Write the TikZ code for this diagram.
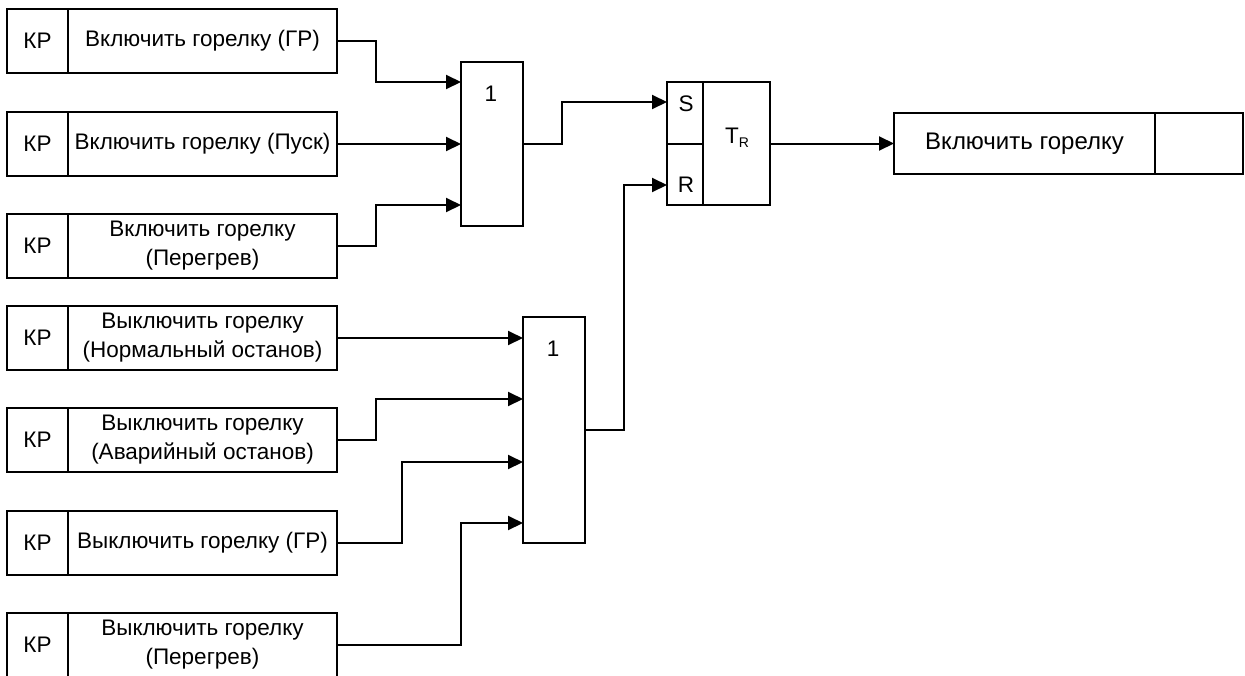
\documentclass[tikz,border=0pt]{standalone}
\usepackage{fontspec}
\setmainfont{Liberation Sans}
\usetikzlibrary{arrows.meta}
\begin{document}
\begin{tikzpicture}[x=1pt,y=-1pt,
  every node/.style={inner sep=0pt,outer sep=0pt},
  blk/.style={draw,line width=2pt,anchor=north west,font=\fontsize{22.5}{29}\selectfont,align=center},
  arr/.style={line width=2pt,-{Triangle[length=15pt,width=14pt]}},
  lbl/.style={font=\fontsize{22.5}{29}\selectfont}]
\useasboundingbox (0,0) rectangle (1245,675);
% left blocks
\foreach \n/\y/\t in {1/9/{Включить горелку (ГР)},2/112/{Включить горелку (Пуск)},3/214/{Включить горелку\\(Перегрев)},4/306/{Выключить горелку\\(Нормальный останов)},5/408/{Выключить горелку\\(Аварийный останов)},6/511/{Выключить горелку (ГР)},7/613/{Выключить горелку\\(Перегрев)}}{
  \node[blk,minimum width=61pt,minimum height=64pt] (k\n) at (7,\y) {КР};
  \node[blk,minimum width=269pt,minimum height=64pt] (t\n) at (68,\y) {\t};
}
% OR gates
\node[blk,minimum width=62pt,minimum height=164pt] (or1) at (461,62) {};
\node[lbl] (or1l) at (491,94) {1};
\node[blk,minimum width=62pt,minimum height=226pt] (or2) at (523,317) {};
\node[lbl] (or2l) at (553,349) {1};
% trigger
\node[blk,minimum width=36pt,minimum height=62pt] (ts) at (667,82) {};
\node[blk,minimum width=36pt,minimum height=61pt] (tr) at (667,144) {};
\node[blk,minimum width=67pt,minimum height=123pt] (tm) at (703,82) {};
\node[lbl] (sl) at (686,104) {S};
\node[lbl] (rl) at (686,185) {R};
\node[lbl] (tl) at (737,138) {T\raisebox{-0.35ex}{\fontsize{14}{14}\selectfont R}};
% output
\node[blk,minimum width=261pt,minimum height=61pt,font=\fontsize{24}{29}\selectfont] (out) at (894,113) {Включить горелку};
\node[blk,minimum width=88pt,minimum height=61pt] (out2) at (1155,113) {};
% pins
\coordinate (p1) at (461,82);
\coordinate (p2) at (461,144);
\coordinate (p3) at (461,205);
\coordinate (q1) at (523,338);
\coordinate (q2) at (523,399);
\coordinate (q3) at (523,462);
\coordinate (q4) at (523,523);
\coordinate (sp) at (667,102);
\coordinate (rp) at (667,185);
\coordinate (o1) at (523,144);
\coordinate (o2) at (585,430);
% connectors
\draw[arr] (t1.east) -- (376,41) |- (p1);
\draw[arr] (t2.east) -- (p2);
\draw[arr] (t3.east) -- (376,246) |- (p3);
\draw[arr] (t4.east) -- (q1);
\draw[arr] (t5.east) -- (376,440) |- (q2);
\draw[arr] (t6.east) -- (402,543) |- (q3);
\draw[arr] (t7.east) -- (461,645) |- (q4);
\draw[arr] (o1) -- (562,144) |- (sp);
\draw[arr] (o2) -- (624,430) |- (rp);
\draw[arr] (tm.east) -- (out.west);
\end{tikzpicture}
\end{document}
